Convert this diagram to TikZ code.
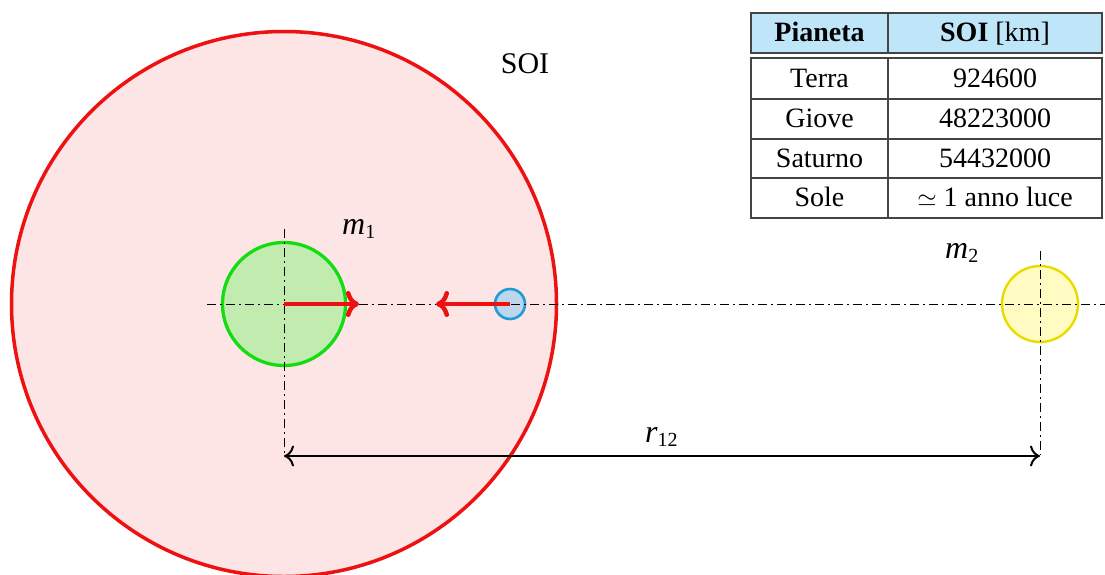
\documentclass[tikz,border=0pt]{standalone}
\usepackage{fontspec}
\setmainfont{Liberation Serif}
\usetikzlibrary{arrows.meta}
\definecolor{soired}{HTML}{EE1111}
\definecolor{soifill}{HTML}{FDE4E5}
\definecolor{grnline}{HTML}{11DD11}
\definecolor{grnfill}{HTML}{C2EBB0}
\definecolor{bluline}{HTML}{1E9BD8}
\definecolor{blufill}{HTML}{BDD6EA}
\definecolor{yelline}{HTML}{E6DD00}
\definecolor{yelfill}{HTML}{FFFBC2}
\definecolor{hdrfill}{HTML}{BEE6F8}
\definecolor{tblline}{HTML}{444444}
\newcommand{\symlbl}[2]{{\fontsize{32}{34}\selectfont\itshape #1}\raisebox{-4pt}{\fontsize{20}{22}\selectfont #2}}
\tikzset{
  body/.style={circle, inner sep=0pt, outer sep=0pt, line width=3pt},
  axis/.style={black, line width=0.9pt, dash pattern=on 9pt off 4pt on 2pt off 4pt},
  force/.style={soired, line width=4.5pt, -{To[length=13pt,width=26pt]}},
  dist/.style={black, line width=2pt, {To[length=10pt,width=21pt]}-{To[length=10pt,width=21pt]}},
  tbl/.style={tblline, line width=1.3pt},
  cell/.style={inner sep=0pt, anchor=base},
  lbl/.style={inner sep=0pt, anchor=base west}
}
\begin{document}
\begin{tikzpicture}[x=1pt, y=-1pt, font=\fontsize{28}{32}\selectfont]
\useasboundingbox (0,0) rectangle (1105,574);
\begin{scope}
\clip (0,0) rectangle (1105,574);
\node[body, draw=soired, fill=soifill, minimum size=545pt, line width=3.5pt] (soi) at (284,304) {};
\end{scope}
\node[body, draw=grnline, fill=grnfill, minimum size=123pt, line width=3.3pt] (m1) at (284,304) {};
\node[body, draw=bluline, fill=blufill, minimum size=30pt, line width=2.6pt] (sat) at (510,304) {};
\node[body, draw=yelline, fill=yelfill, minimum size=76pt, line width=2.4pt] (m2) at (1040,304) {};
% axes
\coordinate (hl) at (207,304);
\coordinate (hr) at (1105,304);
\coordinate (v1t) at (284,229);
\coordinate (v1b) at (284,455);
\coordinate (v2t) at (1040,251);
\coordinate (v2b) at (1040,455);
\draw[axis] (hl) -- (hr);
\draw[axis] (v1t) -- (v1b);
\draw[axis] (v2t) -- (v2b);
% forces
\coordinate (f1) at (359,304);
\coordinate (f2) at (436,304);
\draw[force] (m1.center) -- (f1);
\draw[force] (sat.center) -- (f2);
% distance
\coordinate (d1) at (284,456);
\coordinate (d2) at (1040,456);
\draw[dist] (d1) -- (d2);
% labels
\node[inner sep=0pt, anchor=base, font=\fontsize{30}{34}\selectfont] (soilbl) at (525,73) {SOI};
\node[lbl] (m1lbl) at (342,234) {\symlbl{m}{1}};
\node[lbl] (m2lbl) at (945,258) {\symlbl{m}{2}};
\node[lbl] (rlbl) at (645,442) {\symlbl{r}{12}};
% table
\fill[hdrfill] (751,13) rectangle (1102,53);
\draw[tbl] (751,13) rectangle (1102,53);
\draw[tbl] (888,13) -- (888,53);
\draw[tbl] (751,58) rectangle (1102,218);
\draw[tbl] (888,58) -- (888,218);
\draw[tbl] (751,99) -- (1102,99);
\draw[tbl] (751,139) -- (1102,139);
\draw[tbl] (751,178) -- (1102,178);
\node[cell] (h1) at (819.5,41.5) {\textbf{Pianeta}};
\node[cell] (h2) at (995,41.5) {\textbf{SOI} [km]};
\node[cell] (a1) at (819.5,87.3) {Terra};
\node[cell] (a2) at (995,87.3) {924600};
\node[cell] (b1) at (819.5,127.8) {Giove};
\node[cell] (b2) at (995,127.8) {48223000};
\node[cell] (c1) at (819.5,167.3) {Saturno};
\node[cell] (c2) at (995,167.3) {54432000};
\node[cell] (e1) at (819.5,206.8) {Sole};
\node[cell] (e2) at (995,206.8) {$\simeq$ 1 anno luce};
\end{tikzpicture}
\end{document}
